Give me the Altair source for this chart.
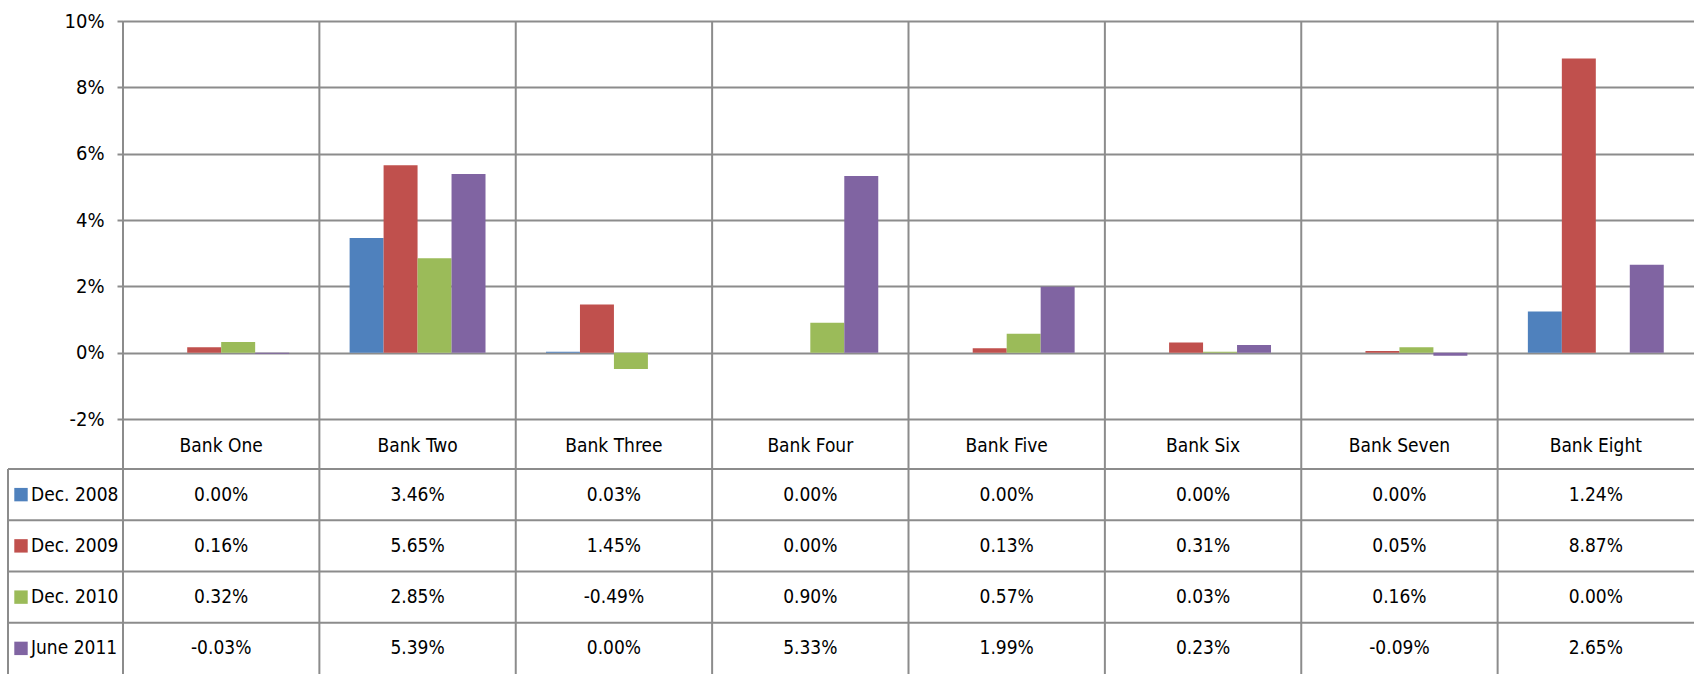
import altair as alt
import pandas as pd

banks = ["Bank One", "Bank Two", "Bank Three", "Bank Four",
         "Bank Five", "Bank Six", "Bank Seven", "Bank Eight"]
series = ["Dec. 2008", "Dec. 2009", "Dec. 2010", "June 2011"]
colors = ["#4F81BD", "#C0504D", "#9BBB59", "#8064A2"]

# values in percent
dec2008 = [0.00, 3.46, 0.03, 0.00, 0.00, 0.00, 0.00, 1.24]
dec2009 = [0.16, 5.65, 1.45, 0.00, 0.13, 0.31, 0.05, 8.87]
dec2010 = [0.32, 2.85, -0.49, 0.90, 0.57, 0.03, 0.16, 0.00]
jun2011 = [-0.03, 5.39, 0.00, 5.33, 1.99, 0.23, -0.09, 2.65]
y_ticks = [-2, 0, 2, 4, 6, 8, 10]

rows = []
for s, vals in zip(series, [dec2008, dec2009, dec2010, jun2011]):
    for b, v in zip(banks, vals):
        rows.append({"bank": b, "series": s, "value": v / 100.0})
df = pd.DataFrame(rows)
df_banks = pd.DataFrame({"bank": banks})
df_series = pd.DataFrame({"series": series})

FONT = "DejaVu Sans Condensed, Liberation Sans Narrow, sans-serif"
FS = 19
GRID = "#8c8c8c"
W, H = 1571, 398
TABLE_TOP = 448
TABLE_BOTTOM = 653
LEFT = -115

xscale = alt.Scale(domain=banks, paddingInner=0, paddingOuter=0)
row_scale = alt.Scale(type="band", domain=series, range=[TABLE_TOP, TABLE_BOTTOM],
                      paddingInner=0, paddingOuter=0)
color_scale = alt.Scale(domain=series, range=colors)

vlines = alt.Chart(df_banks).mark_rule(color=GRID, strokeWidth=2).encode(
    x=alt.X("bank:N", scale=xscale, bandPosition=0, axis=None),
    y=alt.value(0), y2=alt.value(TABLE_BOTTOM),
)

bars = alt.Chart(df).mark_bar().encode(
    x=alt.X("bank:N", scale=xscale, axis=None, sort=banks),
    xOffset=alt.XOffset("series:N", sort=series,
                        scale=alt.Scale(paddingInner=0, paddingOuter=0.89)),
    y=alt.Y("value:Q",
            scale=alt.Scale(domain=[-0.02, 0.10], nice=False, zero=False),
            axis=alt.Axis(values=[t / 100 for t in y_ticks], format=".0%",
                          title=None, grid=True, gridColor=GRID, gridWidth=2,
                          gridOpacity=1, tickColor=GRID, tickWidth=2, tickSize=6,
                          domain=False, labelFont=FONT, labelFontSize=FS + 1,
                          labelColor="black", labelPadding=13)),
    color=alt.Color("series:N", scale=color_scale, legend=None),
)

cat_labels = alt.Chart(df_banks).mark_text(font=FONT, fontSize=FS, color="black",
                                           baseline="middle").encode(
    x=alt.X("bank:N", scale=xscale, axis=None),
    y=alt.value(425),
    text="bank:N",
)

hlines = alt.Chart(df_series).mark_rule(color=GRID, strokeWidth=2).encode(
    y=alt.Y("series:N", scale=row_scale, bandPosition=0, axis=None),
    x=alt.value(LEFT), x2=alt.value(W),
)

left_border = alt.Chart(df_series).mark_rule(color=GRID, strokeWidth=2).encode(
    x=alt.value(LEFT), y=alt.value(TABLE_TOP), y2=alt.value(TABLE_BOTTOM),
)

swatches = alt.Chart(df_series).mark_square(size=180, opacity=1).encode(
    x=alt.value(-102),
    y=alt.Y("series:N", scale=row_scale, bandPosition=0.5, axis=None),
    color=alt.Color("series:N", scale=color_scale, legend=None),
)

series_labels = alt.Chart(df_series).mark_text(font=FONT, fontSize=FS, color="black",
                                               align="left", baseline="middle").encode(
    x=alt.value(-92),
    y=alt.Y("series:N", scale=row_scale, bandPosition=0.5, axis=None),
    text="series:N",
)

cells = alt.Chart(df).mark_text(font=FONT, fontSize=FS, color="black",
                                baseline="middle").encode(
    x=alt.X("bank:N", scale=xscale, axis=None),
    y=alt.Y("series:N", scale=row_scale, bandPosition=0.5, axis=None),
    text=alt.Text("value:Q", format=".2%"),
)

chart = alt.layer(
    vlines, bars, cat_labels, hlines, left_border, swatches, series_labels, cells
).resolve_scale(
    y="independent"
).properties(
    width=W, height=H,
    padding={"left": 123, "top": 21, "right": 0, "bottom": 255},
    autosize=alt.AutoSizeParams(type="none"),
).configure(
    font=FONT,
    locale=alt.Locale(number=alt.NumberLocale(decimal=".", thousands=",",
                                              grouping=[3], currency=["$", ""],
                                              minus="-")),
).configure_view(strokeWidth=0)

chart.save("out.html", embed_options={"renderer": "svg", "actions": False})
